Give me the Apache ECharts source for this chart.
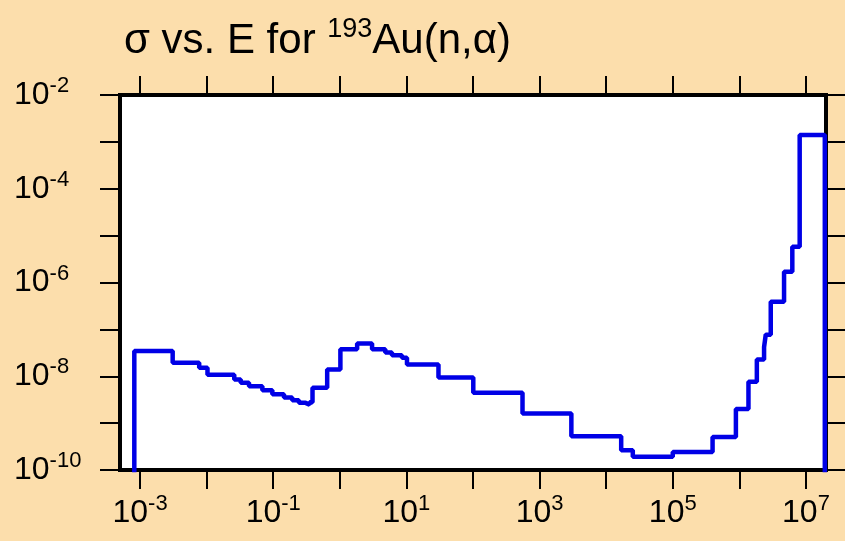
<!DOCTYPE html>
<html>
<head>
<meta charset="utf-8">
<script src="https://cdn.jsdelivr.net/npm/echarts@6/dist/echarts.min.js"></script>
<style>
html,body{margin:0;padding:0;background:#FCDEAC;}
#tb1{width:845px;height:541px;}
</style>
</head>
<body>
<div id="tb1"></div>
<script>
// energy bin edges (eV) and cross section (b), step histogram
var energy = [8.2e-4, 8.2e-4, 3.09e-3, 7.73e-3, 1.03e-2, 0.026, 0.0325, 0.0433, 0.0687, 0.097,
    0.145, 0.193, 0.243, 0.306, 0.351, 0.389, 0.646, 1.02, 1.82, 3.05,
    4.82, 6.07, 8.57, 10.2, 30.3, 101, 554, 3000, 1.68e4, 2.51e4,
    1.0e5, 3.96e5, 8.87e5, 1.37e6, 1.83e6, 2.35e6, 2.49e6, 2.96e6, 4.69e6, 6.24e6,
    8.05e6, 1.92e7];
var sigma = [1e-12, 3.44e-8, 1.95e-8, 1.51e-8, 1.08e-8, 8.55e-9, 7.23e-9, 6.15e-9, 5.05e-9, 4.15e-9,
    3.53e-9, 3.09e-9, 2.71e-9, 2.48e-9, 2.8e-9, 5.65e-9, 1.40e-8, 3.79e-8, 5.01e-8, 3.79e-8,
    3.22e-8, 2.82e-8, 2.47e-8, 1.79e-8, 9.42e-9, 4.47e-9, 1.61e-9, 5.27e-10, 2.65e-10, 1.92e-10,
    2.42e-10, 5.08e-10, 2.01e-9, 7.59e-9, 2.29e-8, 4.18e-8, 7.72e-8, 3.88e-7, 1.69e-6, 5.78e-6,
    1.40e-3, 1e-12];
var xRange = [5e-4, 2e7];
var yRange = [1e-10, 1e-2];
var xTicks = [-3, -2, -1, 0, 1, 2, 3, 4, 5, 6, 7];
var xLabels = [-3, -1, 1, 3, 5, 7];
var yTicks = [-10, -9, -8, -7, -6, -5, -4, -3, -2];
var yLabels = [-10, -8, -6, -4, -2];

var font = 'Liberation Sans';
var pts = [];
for (var i = 0; i < energy.length; i++) {
    pts.push([Math.log10(energy[i]), Math.log10(sigma[i])]);
}

var rich = {
    b: {fontFamily: font, fontSize: 32, color: '#000', lineHeight: 40},
    s: {fontFamily: font, fontSize: 22, color: '#000', lineHeight: 14, verticalAlign: 'top'}
};
function powLabel(v) {
    return '{b|10}{s|' + v + '}';
}
function tick(vals, len) {
    return {show: true, inside: false, length: len, customValues: vals,
        lineStyle: {color: '#000', width: 2}};
}

var myChart1 = echarts.init(document.getElementById('tb1'));
var option1 = {
    backgroundColor: '#FCDEAC',
    animation: false,
    title: {
        text: '{a|σ vs. E for }{s|193}{a|Au(n,α)}',
        left: 119, top: 11,
        textStyle: {
            fontWeight: 'normal',
            rich: {
                a: {fontFamily: font, fontSize: 42, fontWeight: 'normal', color: '#000', lineHeight: 50},
                s: {fontFamily: font, fontSize: 27, fontWeight: 'normal', color: '#000', lineHeight: 18, verticalAlign: 'top'}
            }
        }
    },
    grid: {
        left: 120, top: 95, width: 706, height: 375,
        show: true, backgroundColor: '#fff', borderColor: '#000', borderWidth: 4
    },
    xAxis: [{
        type: 'value', position: 'bottom',
        min: Math.log10(xRange[0]), max: Math.log10(xRange[1]),
        axisLine: {show: false, onZero: false},
        splitLine: {show: false},
        axisTick: tick(xTicks, 19),
        axisLabel: {customValues: xLabels, margin: 23, formatter: powLabel, rich: rich}
    }, {
        type: 'value', position: 'top',
        min: Math.log10(xRange[0]), max: Math.log10(xRange[1]),
        axisLine: {show: false, onZero: false},
        splitLine: {show: false},
        axisTick: tick(xTicks, 19),
        axisLabel: {show: false}
    }],
    yAxis: [{
        type: 'value', position: 'left',
        min: Math.log10(yRange[0]), max: Math.log10(yRange[1]),
        axisLine: {show: false, onZero: false},
        splitLine: {show: false},
        axisTick: tick(yTicks, 20),
        axisLabel: {customValues: yLabels, margin: 106, align: 'left', formatter: powLabel, rich: rich}
    }, {
        type: 'value', position: 'right',
        min: Math.log10(yRange[0]), max: Math.log10(yRange[1]),
        axisLine: {show: false, onZero: false},
        splitLine: {show: false},
        axisTick: tick(yTicks, 20),
        axisLabel: {show: false}
    }],
    series: [{
        type: 'line',
        step: 'end',
        data: pts,
        showSymbol: false,
        clip: true,
        lineStyle: {color: '#0000E6', width: 4.5}
    }]
};
myChart1.setOption(option1);
</script>
</body>
</html>
